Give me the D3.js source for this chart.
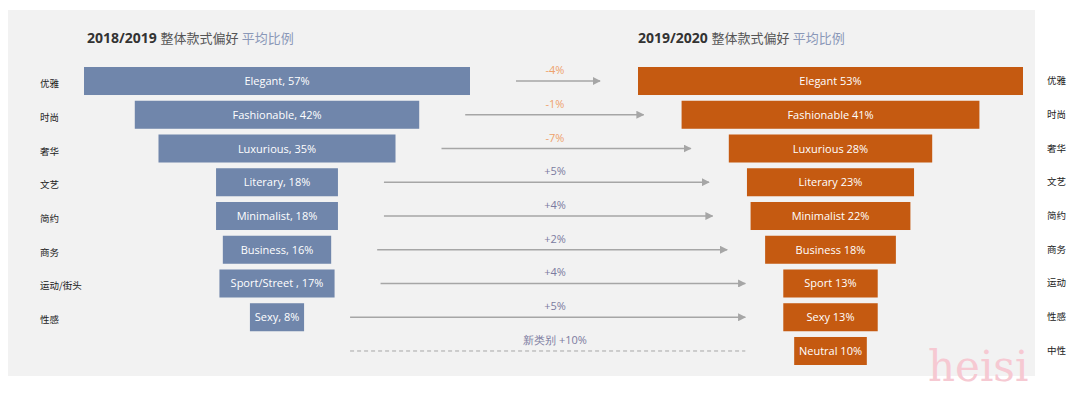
<!DOCTYPE html>
<meta charset="utf-8">
<script src="https://cdn.jsdelivr.net/npm/d3@7"></script>
<style>
body { margin: 0; background: #fff; }
.bar-text { font-family: "Open Sans", sans-serif; font-size: 11px; fill: #fff; }
.cn { font-family: "Noto Sans CJK SC", sans-serif; font-size: 9.5px; fill: #222; }
.delta { font-family: "Open Sans", sans-serif; font-size: 11px; }
</style>
<body>
<script>

// 2018/2019
var leftNames = ["Elegant", "Fashionable", "Luxurious", "Literary", "Minimalist", "Business", "Sport/Street ", "Sexy"]
var leftValues = [57, 42, 35, 18, 18, 16, 17, 8]
var leftCn = ["优雅", "时尚", "奢华", "文艺", "简约", "商务", "运动/街头", "性感"]

// 2019/2020
var rightNames = ["Elegant", "Fashionable", "Luxurious", "Literary", "Minimalist", "Business", "Sport", "Sexy", "Neutral"]
var rightValues = [53, 41, 28, 23, 22, 18, 13, 13, 10]
var rightCn = ["优雅", "时尚", "奢华", "文艺", "简约", "商务", "运动", "性感", "中性"]

// change between the two seasons
var changes = [-4, -1, -7, 5, 4, 2, 4, 5, 10]
var newLabel = "新类别"

var width = 1080
var height = 394

var svg = d3.select("body").append("svg")
            .attr("width", width)
            .attr("height", height)
            .style("display", "block")

svg.append("rect").attr("x", 8).attr("y", 10).attr("width", 1027).attr("height", 366).attr("fill", "#f2f2f2")

var defs = svg.append("defs")
defs.append("marker").attr("id", "head")
    .attr("viewBox", "0 0 10 10").attr("refX", 9).attr("refY", 5)
    .attr("markerWidth", 5).attr("markerHeight", 5).attr("orient", "auto")
  .append("path").attr("d", "M0,0L10,5L0,10Z").attr("fill", "#a6a6a6")

var rows = d3.range(rightNames.length)
var y = d3.scaleBand().domain(rows).range([67, 365]).paddingInner(0.17)

var leftCenter = 277, rightCenter = 830.5
var xL = d3.scaleLinear().domain([0, d3.max(leftValues)]).range([0, 386])
var xR = d3.scaleLinear().domain([0, d3.max(rightValues)]).range([0, 385])

// titles
function title(x, year) {
  var t = svg.append("text").attr("x", x).attr("y", 43)
             .style("font-family", "'Open Sans', 'Noto Sans CJK SC', sans-serif").style("font-size", "14px")
  t.append("tspan").attr("font-weight", 700).attr("fill", "#333").text(year + " ")
  t.append("tspan").attr("fill", "#555").style("font-size", "13px").text("整体款式偏好 ")
  t.append("tspan").attr("fill", "#8a98b8").style("font-size", "13px").text("平均比例")
}
title(87, "2018/2019")
title(638, "2019/2020")

// left bars
var lg = svg.append("g")
lg.selectAll("rect").data(leftValues).enter().append("rect")
  .attr("x", function(d) { return leftCenter - xL(d) / 2 })
  .attr("y", function(d, i) { return y(i) })
  .attr("width", function(d) { return xL(d) })
  .attr("height", y.bandwidth())
  .attr("fill", "#7086ab")
lg.selectAll("text").data(leftValues).enter().append("text")
  .attr("class", "bar-text").attr("text-anchor", "middle")
  .attr("x", leftCenter)
  .attr("y", function(d, i) { return y(i) + y.bandwidth() / 2 + 4 })
  .text(function(d, i) { return leftNames[i] + ", " + d + "%" })

// right bars
var rg = svg.append("g")
rg.selectAll("rect").data(rightValues).enter().append("rect")
  .attr("x", function(d) { return rightCenter - xR(d) / 2 })
  .attr("y", function(d, i) { return y(i) })
  .attr("width", function(d) { return xR(d) })
  .attr("height", y.bandwidth())
  .attr("fill", "#c55a11")
rg.selectAll("text").data(rightValues).enter().append("text")
  .attr("class", "bar-text").attr("text-anchor", "middle")
  .attr("x", rightCenter)
  .attr("y", function(d, i) { return y(i) + y.bandwidth() / 2 + 4 })
  .text(function(d, i) { return rightNames[i] + " " + d + "%" })

// chinese row labels
svg.selectAll(".cnl").data(leftCn).enter().append("text")
  .attr("class", "cn").attr("x", 40)
  .attr("y", function(d, i) { return y(i) + y.bandwidth() / 2 + 6 })
  .text(function(d) { return d })
svg.selectAll(".cnr").data(rightCn).enter().append("text")
  .attr("class", "cn").attr("x", 1047)
  .attr("y", function(d, i) { return y(i) + y.bandwidth() / 2 + 3 })
  .text(function(d) { return d })

// arrows
function startX(i) { return leftCenter + xL(leftValues[Math.min(i, leftValues.length - 1)]) / 2 + 46 }
function endX(i) {
  var j = i < leftValues.length ? i : leftValues.length - 1
  return rightCenter - xR(rightValues[j]) / 2 - 38
}
var ag = svg.append("g")
ag.selectAll("line").data(changes).enter().append("line")
  .attr("x1", function(d, i) { return startX(i) })
  .attr("x2", function(d, i) { return endX(i) })
  .attr("y1", function(d, i) { return y(i) + y.bandwidth() / 2 })
  .attr("y2", function(d, i) { return y(i) + y.bandwidth() / 2 })
  .attr("stroke", "#a6a6a6")
  .attr("stroke-width", function(d, i) { return i < leftValues.length ? 1.6 : 1 })
  .attr("stroke-dasharray", function(d, i) { return i < leftValues.length ? null : "4,3" })
  .attr("marker-end", function(d, i) { return i < leftValues.length ? "url(#head)" : null })
ag.selectAll("text").data(changes).enter().append("text")
  .attr("class", "delta").attr("text-anchor", "middle")
  .attr("x", 555)
  .attr("y", function(d, i) { return y(i) + y.bandwidth() / 2 - 7 })
  .attr("fill", function(d) { return d < 0 ? "#eea26c" : "#7b7ba0" })
  .text(function(d, i) {
    var s = (d > 0 ? "+" : "") + d + "%"
    return i < leftValues.length ? s : newLabel + " " + s
  })

// watermark
svg.append("text").attr("x", 928).attr("y", 381)
  .style("font-family", "'DejaVu Serif', serif").style("font-size", "42px")
  .attr("fill", "#f6c9d2")
  .text("heisi")

</script>
</body>
